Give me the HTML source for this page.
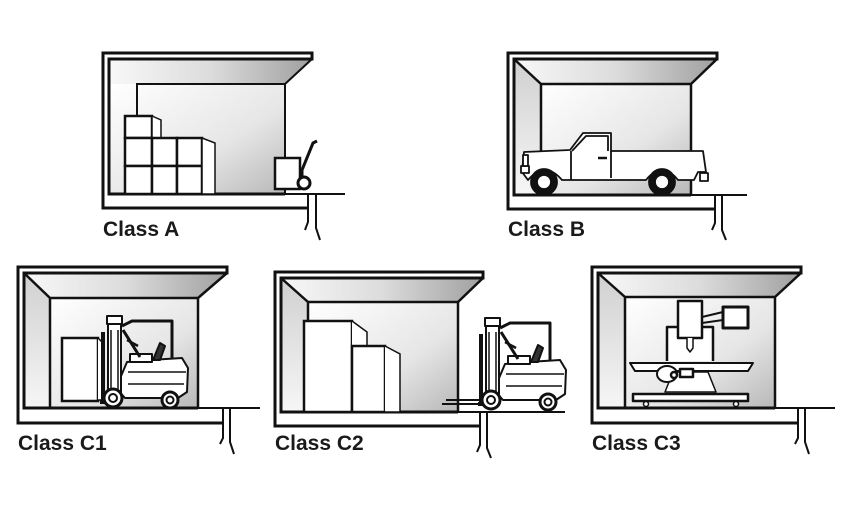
<!DOCTYPE html>
<html><head><meta charset="utf-8"><style>
html,body{margin:0;padding:0;background:#fff}
svg{display:block}
text{font-family:"Liberation Sans",sans-serif;font-weight:bold;font-size:21px;fill:#1a1a1a}
</style></head><body>
<svg width="845" height="514" viewBox="0 0 845 514" xmlns="http://www.w3.org/2000/svg">
<defs>
<linearGradient id="ceil" x1="0" y1="0" x2="1" y2="0"><stop offset="0" stop-color="#f8f8f8"/><stop offset="0.5" stop-color="#dcdcdc"/><stop offset="1" stop-color="#a0a0a0"/></linearGradient>
<linearGradient id="lw" x1="0" y1="0" x2="0" y2="1"><stop offset="0" stop-color="#d0d0d0"/><stop offset="1" stop-color="#f6f6f6"/></linearGradient>
<linearGradient id="back" x1="0" y1="0" x2="1" y2="1"><stop offset="0" stop-color="#ffffff"/><stop offset="0.6" stop-color="#e6e6e6"/><stop offset="1" stop-color="#b8b8b8"/></linearGradient>
<g id="fork" fill="#fff" stroke="#111" stroke-width="2" stroke-linejoin="round">
  <path d="M122 326 L132 321 H172 V362" fill="none" stroke-width="3"/>
  <path d="M127 362 L150 360 L182 358 L188 368 L187 392 L178 398 H125 L116 388 Z"/>
  <path d="M128 372 H186 M128 384 H184" fill="none" stroke-width="1.5"/>
  <rect x="130" y="354" width="22" height="8"/>
  <path d="M153 360 L160 343 L165 346 L160 360 Z" fill="#333"/>
  <path d="M123 330 L140 357" stroke-width="3"/>
  <path d="M127 340 L138 346" stroke-width="2.5"/>
  <rect x="108" y="322" width="13" height="70"/>
  <rect x="107" y="316" width="15" height="8"/>
  <path d="M111 330 V390 M118 330 V390" fill="none" stroke-width="1.5"/>
  <path d="M103 332 V402 M100 402 H112" fill="none" stroke-width="4"/>
  <circle cx="113" cy="398" r="9" stroke-width="3"/><circle cx="113" cy="398" r="4"/>
  <circle cx="170" cy="400" r="8" stroke-width="3"/><circle cx="170" cy="400" r="3.5"/>
</g>
</defs>

<!-- Class A -->
<g>
<polygon points="109,59 312,59 285,84 109,84" fill="url(#ceil)"/>
<rect x="109" y="84" width="176" height="110" fill="url(#back)"/>
<path d="M308 208 H103 V53 H312 V59 H109 V194 H285" fill="none" stroke="#111" stroke-width="3"/>
<path d="M312 59 L285 84 M137 116 V84 H285 V194" fill="none" stroke="#111" stroke-width="2"/>
<path d="M285 194 H345" stroke="#111" stroke-width="2"/>
<path d="M308 194 V222 L305 230 M316 194 V228 L320 240" fill="none" stroke="#111" stroke-width="2"/>
<g fill="#fff" stroke="#111" stroke-width="2.5">
<rect x="125" y="116" width="27" height="22"/>
<path d="M152 116 L161 120 V138 H152Z" stroke-width="1.5"/>
<rect x="125" y="138" width="27" height="28"/><rect x="152" y="138" width="25" height="28"/><rect x="177" y="138" width="25" height="28"/>
<rect x="125" y="166" width="27" height="28"/><rect x="152" y="166" width="25" height="28"/><rect x="177" y="166" width="25" height="28"/>
<path d="M202 138 L215 143 V194 H202Z" stroke-width="1.5"/>
<rect x="275" y="158" width="25" height="31"/>
<path d="M302 188 V170 L313 143 L317 141" fill="none" stroke-width="3"/>
<circle cx="304" cy="183" r="6" stroke-width="3"/>
</g>
<text x="103" y="236">Class A</text>
</g>

<!-- Class B -->
<g>
<polygon points="514,59 717,59 691,84 541,84" fill="url(#ceil)"/>
<polygon points="514,59 541,84 541,195 514,195" fill="url(#lw)"/>
<rect x="541" y="84" width="150" height="111" fill="url(#back)"/>
<path d="M715 209 H508 V53 H717 V59 H514 V195 H691" fill="none" stroke="#111" stroke-width="3"/>
<path d="M514 59 L541 84 M717 59 L691 84 M541 195 V84 H691 V195" fill="none" stroke="#111" stroke-width="2.5"/>
<path d="M691 195 H747" stroke="#111" stroke-width="2"/>
<path d="M715 195 V223 L712 230 M722 195 V230 L726 240" fill="none" stroke="#111" stroke-width="2"/>
<g fill="#fff" stroke="#111" stroke-width="1.8" stroke-linejoin="round">
<path d="M524 152 L570 150 L583 133 H611 V151 H703 L706 172 H698 L694 180 H678 Q662 160 646 180 H562 Q545 160 528 180 L522 172 Z"/>
<path d="M571 151 V180 M611 151 V178 M572 151 L586 136 H608 V151" fill="none"/>
<path d="M598 158 H607" stroke-width="2.5"/>
<rect x="521" y="166" width="8" height="7"/><rect x="523" y="155" width="5" height="11"/>
<rect x="700" y="173" width="8" height="8"/>
<circle cx="544" cy="182" r="13" fill="#111"/><circle cx="544" cy="182" r="7"/>
<circle cx="662" cy="182" r="13" fill="#111"/><circle cx="662" cy="182" r="7"/>
</g>
<text x="508" y="236">Class B</text>
</g>

<!-- Class C1 -->
<g>
<polygon points="24,273 227,273 198,298 50,298" fill="url(#ceil)"/>
<polygon points="24,273 50,298 50,408 24,408" fill="url(#lw)"/>
<rect x="50" y="298" width="148" height="110" fill="url(#back)"/>
<path d="M223 423 H18 V267 H227 V273 H24 V408 H198" fill="none" stroke="#111" stroke-width="3"/>
<path d="M24 273 L50 298 M227 273 L198 298 M50 408 V298 H198 V408" fill="none" stroke="#111" stroke-width="2.5"/>
<path d="M198 408 H260" stroke="#111" stroke-width="2"/>
<path d="M223 408 V438 L220 444 M230 408 V442 L234 454" fill="none" stroke="#111" stroke-width="2"/>
<rect x="62" y="338" width="36" height="63" fill="#fff" stroke="#111" stroke-width="2.5"/>
<path d="M98 338 L104 344 V400 H98" fill="#fff" stroke="#111" stroke-width="1.5"/>
<use href="#fork"/>
<text x="18" y="450">Class C1</text>
</g>

<!-- Class C2 -->
<g>
<polygon points="281,278 483,278 458,302 308,302" fill="url(#ceil)"/>
<polygon points="281,278 308,302 308,412 281,412" fill="url(#lw)"/>
<rect x="308" y="302" width="150" height="110" fill="url(#back)"/>
<path d="M480 426 H275 V272 H483 V278 H281 V412 H458" fill="none" stroke="#111" stroke-width="3"/>
<path d="M281 278 L308 302 M483 278 L458 302 M308 412 V302 H458 V412" fill="none" stroke="#111" stroke-width="2.5"/>
<path d="M458 412 H565" stroke="#111" stroke-width="2"/>
<path d="M480 412 V445 L477 452 M487 412 V448 L491 458" fill="none" stroke="#111" stroke-width="2"/>
<g fill="#fff" stroke="#111">
<rect x="304" y="321" width="48" height="91" stroke-width="2.5"/>
<path d="M352 321 L367 332 V346 H352" stroke-width="1.5"/>
<rect x="352" y="346" width="33" height="66" stroke-width="2.5"/>
<path d="M385 346 L400 354 V412 H385" stroke-width="1.5"/>
</g>
<path d="M442 404 H486 M446 400 H486" stroke="#111" stroke-width="2"/>
<use href="#fork" transform="translate(378,2)"/>
<text x="275" y="450">Class C2</text>
</g>

<!-- Class C3 -->
<g>
<polygon points="598,273 801,273 775,297 625,297" fill="url(#ceil)"/>
<polygon points="598,273 625,297 625,408 598,408" fill="url(#lw)"/>
<rect x="625" y="297" width="150" height="111" fill="url(#back)"/>
<path d="M798 423 H592 V267 H801 V273 H598 V408 H775" fill="none" stroke="#111" stroke-width="3"/>
<path d="M598 273 L625 297 M801 273 L775 297 M625 408 V297 H775 V408" fill="none" stroke="#111" stroke-width="2.5"/>
<path d="M775 408 H835" stroke="#111" stroke-width="2"/>
<path d="M798 408 V438 L795 444 M805 408 V442 L809 454" fill="none" stroke="#111" stroke-width="2"/>
<g fill="#fff" stroke="#111" stroke-width="2.5" stroke-linejoin="round">
<path d="M667 361 V327 H713 V361"/>
<path d="M665 392 L673 372 H708 L716 392 Z" stroke-width="1.5"/>
<path d="M630 363 H753 L748 371 H635 Z" stroke-width="2"/>
<rect x="678" y="301" width="24" height="37"/>
<path d="M687 338 V348 L690 352 L693 348 V338" stroke-width="1.5"/>
<path d="M702 317 L723 312 M702 323 L723 320" fill="none" stroke-width="2"/>
<rect x="723" y="307" width="25" height="21" stroke-width="3"/>
<ellipse cx="667" cy="374" rx="10" ry="8" stroke-width="2"/>
<circle cx="674" cy="375" r="3"/>
<rect x="680" y="369" width="13" height="8" stroke-width="2.5"/>
<rect x="633" y="394" width="115" height="7" stroke-width="2.5"/>
<circle cx="646" cy="404" r="2.5" stroke-width="1.5"/><circle cx="736" cy="404" r="2.5" stroke-width="1.5"/>
</g>
<text x="592" y="450">Class C3</text>
</g>
</svg>
</body></html>
